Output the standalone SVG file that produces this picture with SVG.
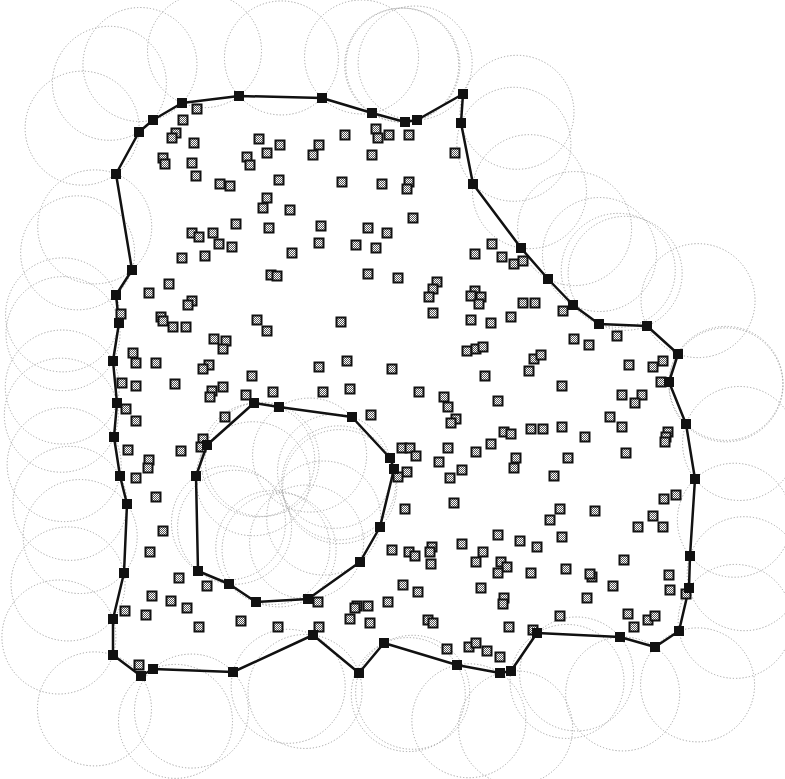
<svg xmlns="http://www.w3.org/2000/svg" xmlns:xlink="http://www.w3.org/1999/xlink" width="785" height="779" viewBox="0 0 785 779">
<defs>
<pattern id="chk" width="2" height="2" patternUnits="userSpaceOnUse"><rect width="2" height="2" fill="#fff"/><rect width="1" height="1" fill="#555"/><rect x="1" y="1" width="1" height="1" fill="#555"/></pattern>
<rect id="n" x="-4.5" y="-4.5" width="9" height="9" fill="url(#chk)" stroke="#111" stroke-width="2"/>
<rect id="b" x="-5" y="-5" width="10" height="10" fill="#111"/>
</defs>
<style>
.rng{fill:none;stroke:#a0a0a0;stroke-width:1;stroke-dasharray:1.2 2}
.bd{fill:none;stroke:#111;stroke-width:2.5;stroke-linejoin:round}
</style>
<rect width="785" height="779" fill="#fff"/>
<g id="ranges-outer">
<path class="rng" d="M182 103A57 57 0 1 1 239 96A57 57 0 0 1 182 103"/>
<path class="rng" d="M239 96A57 57 0 1 1 322 98A57 57 0 0 1 239 96"/>
<path class="rng" d="M322 98A57 57 0 1 1 372 113A57 57 0 0 1 322 98"/>
<path class="rng" d="M372 113A57 57 0 1 1 405 122A57 57 0 0 1 372 113"/>
<path class="rng" d="M405 122A57 57 0 1 1 417 120A57 57 0 0 1 405 122"/>
<path class="rng" d="M417 120A57 57 0 1 1 463 94A57 57 0 0 1 417 120"/>
<path class="rng" d="M463 94A57 57 0 1 1 461 123A57 57 0 0 1 463 94"/>
<path class="rng" d="M461 123A57 57 0 1 1 473 184A57 57 0 0 1 461 123"/>
<path class="rng" d="M473 184A57 57 0 1 1 521 248A57 57 0 0 1 473 184"/>
<path class="rng" d="M521 248A57 57 0 1 1 548 279A57 57 0 0 1 521 248"/>
<path class="rng" d="M548 279A57 57 0 1 1 573 305A57 57 0 0 1 548 279"/>
<path class="rng" d="M573 305A57 57 0 1 1 599 324A57 57 0 0 1 573 305"/>
<path class="rng" d="M599 324A57 57 0 1 1 647 326A57 57 0 0 1 599 324"/>
<path class="rng" d="M647 326A57 57 0 1 1 678 354A57 57 0 0 1 647 326"/>
<path class="rng" d="M678 354A57 57 0 1 1 669 382A57 57 0 0 1 678 354"/>
<path class="rng" d="M669 382A57 57 0 1 1 686 424A57 57 0 0 1 669 382"/>
<path class="rng" d="M686 424A57 57 0 1 1 695 479A57 57 0 0 1 686 424"/>
<path class="rng" d="M695 479A57 57 0 1 1 690 556A57 57 0 0 1 695 479"/>
<path class="rng" d="M690 556A57 57 0 1 1 689 588A57 57 0 0 1 690 556"/>
<path class="rng" d="M689 588A57 57 0 1 1 679 631A57 57 0 0 1 689 588"/>
<path class="rng" d="M679 631A57 57 0 1 1 655 647A57 57 0 0 1 679 631"/>
<path class="rng" d="M655 647A57 57 0 1 1 620 637A57 57 0 0 1 655 647"/>
<path class="rng" d="M620 637A57 57 0 1 1 537 633A57 57 0 0 1 620 637"/>
<path class="rng" d="M537 633A57 57 0 1 1 511 671A57 57 0 0 1 537 633"/>
<path class="rng" d="M511 671A57 57 0 1 1 500 673A57 57 0 0 1 511 671"/>
<path class="rng" d="M500 673A57 57 0 1 1 457 665A57 57 0 0 1 500 673"/>
<path class="rng" d="M457 665A57 57 0 1 1 384 643A57 57 0 0 1 457 665"/>
<path class="rng" d="M384 643A57 57 0 1 1 359 673A57 57 0 0 1 384 643"/>
<path class="rng" d="M359 673A57 57 0 1 1 313 635A57 57 0 0 1 359 673"/>
<path class="rng" d="M313 635A57 57 0 1 1 233 672A57 57 0 0 1 313 635"/>
<path class="rng" d="M233 672A57 57 0 1 1 153 669A57 57 0 0 1 233 672"/>
<path class="rng" d="M153 669A57 57 0 1 1 141 676A57 57 0 0 1 153 669"/>
<path class="rng" d="M141 676A57 57 0 1 1 113 655A57 57 0 0 1 141 676"/>
<path class="rng" d="M113 655A57 57 0 1 1 113 619A57 57 0 0 1 113 655"/>
<path class="rng" d="M113 619A57 57 0 1 1 124 573A57 57 0 0 1 113 619"/>
<path class="rng" d="M124 573A57 57 0 1 1 127 504A57 57 0 0 1 124 573"/>
<path class="rng" d="M127 504A57 57 0 1 1 120 476A57 57 0 0 1 127 504"/>
<path class="rng" d="M120 476A57 57 0 1 1 114 437A57 57 0 0 1 120 476"/>
<path class="rng" d="M114 437A57 57 0 1 1 117 403A57 57 0 0 1 114 437"/>
<path class="rng" d="M117 403A57 57 0 1 1 113 361A57 57 0 0 1 117 403"/>
<path class="rng" d="M113 361A57 57 0 1 1 119 323A57 57 0 0 1 113 361"/>
<path class="rng" d="M119 323A57 57 0 1 1 116 295A57 57 0 0 1 119 323"/>
<path class="rng" d="M116 295A57 57 0 1 1 132 270A57 57 0 0 1 116 295"/>
<path class="rng" d="M132 270A57 57 0 1 1 116 174A57 57 0 0 1 132 270"/>
<path class="rng" d="M116 174A57 57 0 1 1 139 132A57 57 0 0 1 116 174"/>
<path class="rng" d="M139 132A57 57 0 1 1 153 120A57 57 0 0 1 139 132"/>
<path class="rng" d="M153 120A57 57 0 1 1 182 103A57 57 0 0 1 153 120"/>
</g>
<g id="ranges-hole">
<path class="rng" d="M254 403A57 57 0 1 0 279 407A57 57 0 0 0 254 403"/>
<path class="rng" d="M279 407A57 57 0 1 0 352 417A57 57 0 0 0 279 407"/>
<path class="rng" d="M352 417A57 57 0 1 0 390 458A57 57 0 0 0 352 417"/>
<path class="rng" d="M390 458A57 57 0 1 0 394 469A57 57 0 0 0 390 458"/>
<path class="rng" d="M394 469A57 57 0 1 0 380 527A57 57 0 0 0 394 469"/>
<path class="rng" d="M380 527A57 57 0 1 0 360 562A57 57 0 0 0 380 527"/>
<path class="rng" d="M360 562A57 57 0 1 0 308 599A57 57 0 0 0 360 562"/>
<path class="rng" d="M308 599A57 57 0 1 0 256 602A57 57 0 0 0 308 599"/>
<path class="rng" d="M256 602A57 57 0 1 0 229 584A57 57 0 0 0 256 602"/>
<path class="rng" d="M229 584A57 57 0 1 0 198 571A57 57 0 0 0 229 584"/>
<path class="rng" d="M198 571A57 57 0 1 0 196 476A57 57 0 0 0 198 571"/>
<path class="rng" d="M196 476A57 57 0 1 0 207 445A57 57 0 0 0 196 476"/>
<path class="rng" d="M207 445A57 57 0 1 0 254 403A57 57 0 0 0 207 445"/>
</g>
<g id="connectors">
<polygon class="bd" points="182,103 239,96 322,98 372,113 405,122 417,120 463,94 461,123 473,184 521,248 548,279 573,305 599,324 647,326 678,354 669,382 686,424 695,479 690,556 689,588 679,631 655,647 620,637 537,633 511,671 500,673 457,665 384,643 359,673 313,635 233,672 153,669 141,676 113,655 113,619 124,573 127,504 120,476 114,437 117,403 113,361 119,323 116,295 132,270 116,174 139,132 153,120"/>
<polygon class="bd" points="254,403 279,407 352,417 390,458 394,469 380,527 360,562 308,599 256,602 229,584 198,571 196,476 207,445"/>
</g>
<g id="interior-nodes">
<use href="#n" x="197" y="109"/><use href="#n" x="183" y="120"/><use href="#n" x="176" y="133"/><use href="#n" x="172" y="138"/><use href="#n" x="194" y="143"/><use href="#n" x="163" y="158"/><use href="#n" x="165" y="164"/><use href="#n" x="192" y="163"/><use href="#n" x="196" y="176"/><use href="#n" x="220" y="184"/><use href="#n" x="230" y="186"/><use href="#n" x="259" y="139"/><use href="#n" x="280" y="145"/><use href="#n" x="267" y="153"/><use href="#n" x="247" y="157"/><use href="#n" x="250" y="165"/><use href="#n" x="279" y="180"/><use href="#n" x="267" y="198"/><use href="#n" x="263" y="208"/><use href="#n" x="290" y="210"/><use href="#n" x="236" y="224"/><use href="#n" x="269" y="228"/><use href="#n" x="192" y="233"/><use href="#n" x="199" y="237"/><use href="#n" x="213" y="233"/><use href="#n" x="219" y="244"/><use href="#n" x="232" y="247"/><use href="#n" x="182" y="258"/><use href="#n" x="205" y="256"/><use href="#n" x="292" y="253"/><use href="#n" x="271" y="275"/><use href="#n" x="277" y="276"/><use href="#n" x="319" y="145"/><use href="#n" x="313" y="155"/><use href="#n" x="345" y="135"/><use href="#n" x="376" y="129"/><use href="#n" x="378" y="138"/><use href="#n" x="389" y="135"/><use href="#n" x="409" y="135"/><use href="#n" x="372" y="155"/><use href="#n" x="342" y="182"/><use href="#n" x="382" y="184"/><use href="#n" x="409" y="182"/><use href="#n" x="407" y="189"/><use href="#n" x="321" y="226"/><use href="#n" x="368" y="228"/><use href="#n" x="387" y="233"/><use href="#n" x="413" y="218"/><use href="#n" x="319" y="243"/><use href="#n" x="356" y="245"/><use href="#n" x="376" y="248"/><use href="#n" x="368" y="274"/><use href="#n" x="398" y="278"/><use href="#n" x="169" y="284"/><use href="#n" x="149" y="293"/><use href="#n" x="192" y="301"/><use href="#n" x="188" y="305"/><use href="#n" x="161" y="317"/><use href="#n" x="163" y="321"/><use href="#n" x="173" y="327"/><use href="#n" x="186" y="327"/><use href="#n" x="257" y="320"/><use href="#n" x="267" y="331"/><use href="#n" x="341" y="322"/><use href="#n" x="214" y="339"/><use href="#n" x="226" y="341"/><use href="#n" x="223" y="349"/><use href="#n" x="133" y="353"/><use href="#n" x="136" y="363"/><use href="#n" x="156" y="363"/><use href="#n" x="209" y="365"/><use href="#n" x="203" y="369"/><use href="#n" x="252" y="376"/><use href="#n" x="319" y="367"/><use href="#n" x="347" y="361"/><use href="#n" x="392" y="369"/><use href="#n" x="136" y="386"/><use href="#n" x="175" y="384"/><use href="#n" x="212" y="391"/><use href="#n" x="210" y="397"/><use href="#n" x="223" y="387"/><use href="#n" x="246" y="395"/><use href="#n" x="273" y="392"/><use href="#n" x="323" y="392"/><use href="#n" x="350" y="389"/><use href="#n" x="419" y="392"/><use href="#n" x="121" y="314"/><use href="#n" x="122" y="383"/><use href="#n" x="455" y="153"/>
<use href="#n" x="492" y="244"/><use href="#n" x="475" y="254"/><use href="#n" x="502" y="257"/><use href="#n" x="514" y="264"/><use href="#n" x="523" y="261"/><use href="#n" x="437" y="282"/><use href="#n" x="433" y="289"/><use href="#n" x="429" y="297"/><use href="#n" x="433" y="313"/><use href="#n" x="475" y="291"/><use href="#n" x="471" y="296"/><use href="#n" x="481" y="297"/><use href="#n" x="479" y="304"/><use href="#n" x="471" y="320"/><use href="#n" x="491" y="323"/><use href="#n" x="511" y="317"/><use href="#n" x="523" y="303"/><use href="#n" x="535" y="303"/><use href="#n" x="563" y="311"/><use href="#n" x="574" y="339"/><use href="#n" x="589" y="345"/><use href="#n" x="617" y="336"/><use href="#n" x="629" y="365"/><use href="#n" x="653" y="367"/><use href="#n" x="663" y="361"/><use href="#n" x="661" y="382"/><use href="#n" x="467" y="351"/><use href="#n" x="476" y="349"/><use href="#n" x="483" y="347"/><use href="#n" x="534" y="359"/><use href="#n" x="541" y="355"/><use href="#n" x="529" y="371"/><use href="#n" x="485" y="376"/><use href="#n" x="562" y="386"/><use href="#n" x="444" y="397"/><use href="#n" x="448" y="407"/><use href="#n" x="498" y="401"/><use href="#n" x="622" y="395"/><use href="#n" x="642" y="395"/><use href="#n" x="635" y="403"/><use href="#n" x="610" y="417"/><use href="#n" x="456" y="419"/>
<use href="#n" x="451" y="423"/><use href="#n" x="531" y="429"/><use href="#n" x="543" y="429"/><use href="#n" x="562" y="427"/><use href="#n" x="504" y="432"/><use href="#n" x="511" y="434"/><use href="#n" x="585" y="437"/><use href="#n" x="622" y="427"/><use href="#n" x="668" y="432"/><use href="#n" x="666" y="437"/><use href="#n" x="665" y="442"/><use href="#n" x="402" y="448"/><use href="#n" x="410" y="448"/><use href="#n" x="416" y="456"/><use href="#n" x="448" y="448"/><use href="#n" x="491" y="444"/><use href="#n" x="476" y="452"/><use href="#n" x="516" y="458"/><use href="#n" x="514" y="468"/><use href="#n" x="568" y="458"/><use href="#n" x="626" y="453"/><use href="#n" x="439" y="462"/><use href="#n" x="462" y="470"/><use href="#n" x="407" y="472"/><use href="#n" x="398" y="477"/><use href="#n" x="450" y="478"/><use href="#n" x="554" y="476"/><use href="#n" x="405" y="509"/><use href="#n" x="454" y="503"/><use href="#n" x="560" y="509"/><use href="#n" x="550" y="520"/><use href="#n" x="595" y="511"/><use href="#n" x="664" y="499"/><use href="#n" x="676" y="495"/><use href="#n" x="653" y="516"/><use href="#n" x="638" y="527"/><use href="#n" x="663" y="527"/><use href="#n" x="498" y="535"/><use href="#n" x="562" y="537"/><use href="#n" x="520" y="541"/><use href="#n" x="537" y="547"/><use href="#n" x="462" y="544"/><use href="#n" x="392" y="550"/><use href="#n" x="409" y="552"/><use href="#n" x="415" y="556"/><use href="#n" x="432" y="547"/><use href="#n" x="430" y="552"/><use href="#n" x="431" y="564"/><use href="#n" x="483" y="552"/><use href="#n" x="476" y="562"/><use href="#n" x="501" y="562"/><use href="#n" x="507" y="567"/><use href="#n" x="498" y="573"/><use href="#n" x="531" y="573"/><use href="#n" x="566" y="569"/><use href="#n" x="592" y="577"/><use href="#n" x="590" y="574"/><use href="#n" x="624" y="560"/><use href="#n" x="613" y="586"/><use href="#n" x="669" y="575"/><use href="#n" x="670" y="590"/><use href="#n" x="686" y="594"/><use href="#n" x="403" y="585"/><use href="#n" x="418" y="592"/><use href="#n" x="388" y="602"/><use href="#n" x="481" y="588"/><use href="#n" x="504" y="598"/><use href="#n" x="503" y="604"/><use href="#n" x="587" y="598"/><use href="#n" x="560" y="616"/><use href="#n" x="628" y="614"/><use href="#n" x="648" y="620"/><use href="#n" x="655" y="616"/><use href="#n" x="634" y="627"/><use href="#n" x="428" y="620"/><use href="#n" x="433" y="623"/><use href="#n" x="509" y="627"/><use href="#n" x="533" y="630"/><use href="#n" x="447" y="649"/><use href="#n" x="469" y="647"/><use href="#n" x="476" y="643"/><use href="#n" x="487" y="651"/><use href="#n" x="500" y="657"/>
<use href="#n" x="126" y="409"/><use href="#n" x="136" y="421"/><use href="#n" x="225" y="417"/><use href="#n" x="371" y="415"/><use href="#n" x="203" y="439"/><use href="#n" x="201" y="447"/><use href="#n" x="181" y="451"/><use href="#n" x="128" y="450"/><use href="#n" x="149" y="460"/><use href="#n" x="148" y="468"/><use href="#n" x="136" y="478"/><use href="#n" x="156" y="497"/><use href="#n" x="163" y="531"/><use href="#n" x="150" y="552"/><use href="#n" x="179" y="578"/><use href="#n" x="207" y="586"/><use href="#n" x="152" y="596"/><use href="#n" x="171" y="601"/><use href="#n" x="187" y="608"/><use href="#n" x="125" y="611"/><use href="#n" x="146" y="615"/><use href="#n" x="241" y="621"/><use href="#n" x="199" y="627"/><use href="#n" x="278" y="627"/><use href="#n" x="319" y="627"/><use href="#n" x="318" y="602"/><use href="#n" x="357" y="606"/><use href="#n" x="368" y="606"/><use href="#n" x="355" y="608"/><use href="#n" x="350" y="619"/><use href="#n" x="370" y="623"/><use href="#n" x="139" y="665"/>
</g>
<g id="boundary-nodes">
<use href="#b" x="182" y="103"/><use href="#b" x="239" y="96"/><use href="#b" x="322" y="98"/><use href="#b" x="372" y="113"/><use href="#b" x="405" y="122"/><use href="#b" x="417" y="120"/><use href="#b" x="463" y="94"/><use href="#b" x="461" y="123"/><use href="#b" x="473" y="184"/><use href="#b" x="521" y="248"/><use href="#b" x="548" y="279"/><use href="#b" x="573" y="305"/><use href="#b" x="599" y="324"/><use href="#b" x="647" y="326"/><use href="#b" x="678" y="354"/><use href="#b" x="669" y="382"/><use href="#b" x="686" y="424"/><use href="#b" x="695" y="479"/><use href="#b" x="690" y="556"/><use href="#b" x="689" y="588"/><use href="#b" x="679" y="631"/><use href="#b" x="655" y="647"/><use href="#b" x="620" y="637"/><use href="#b" x="537" y="633"/><use href="#b" x="511" y="671"/><use href="#b" x="500" y="673"/><use href="#b" x="457" y="665"/><use href="#b" x="384" y="643"/><use href="#b" x="359" y="673"/><use href="#b" x="313" y="635"/><use href="#b" x="233" y="672"/><use href="#b" x="153" y="669"/><use href="#b" x="141" y="676"/><use href="#b" x="113" y="655"/><use href="#b" x="113" y="619"/><use href="#b" x="124" y="573"/><use href="#b" x="127" y="504"/><use href="#b" x="120" y="476"/><use href="#b" x="114" y="437"/><use href="#b" x="117" y="403"/><use href="#b" x="113" y="361"/><use href="#b" x="119" y="323"/><use href="#b" x="116" y="295"/><use href="#b" x="132" y="270"/><use href="#b" x="116" y="174"/><use href="#b" x="139" y="132"/><use href="#b" x="153" y="120"/>
<use href="#b" x="254" y="403"/><use href="#b" x="279" y="407"/><use href="#b" x="352" y="417"/><use href="#b" x="390" y="458"/><use href="#b" x="394" y="469"/><use href="#b" x="380" y="527"/><use href="#b" x="360" y="562"/><use href="#b" x="308" y="599"/><use href="#b" x="256" y="602"/><use href="#b" x="229" y="584"/><use href="#b" x="198" y="571"/><use href="#b" x="196" y="476"/><use href="#b" x="207" y="445"/>
</g>
</svg>
